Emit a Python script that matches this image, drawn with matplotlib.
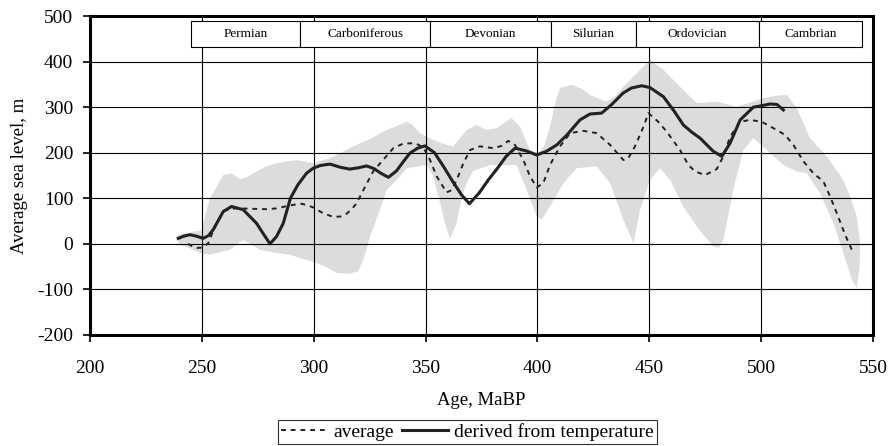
import numpy as np
import matplotlib.pyplot as plt
from matplotlib.patches import Rectangle

plt.rcParams['font.family'] = ['Liberation Serif', 'DejaVu Serif']
plt.rcParams['axes.unicode_minus'] = False

# derived from temperature (solid)
temp_age = [239.5, 242, 244.7, 247.5, 250.6, 253, 255.1, 259.6, 263.3, 268.5, 274.5, 277.5, 280.5,
            283.4, 286.4, 289.6, 293, 296.8, 299.8, 303, 307.3, 312, 316.2, 320, 323.7, 327, 330,
            333.4, 337, 340, 343, 346.5, 349.7, 354, 358, 362, 366, 369.6, 374, 378, 382, 386, 390,
            395, 399.7, 404, 408.6, 413, 419, 423.5, 428.7, 433, 438.3, 442, 446.6, 450.3, 456.3,
            461, 465.2, 469, 472.7, 478.6, 482.4, 486.1, 490.6, 496.5, 500, 504, 507, 509.9]
temp_sea = [12, 17, 20, 17, 12, 18, 31, 71, 82, 75, 45, 22, 0,
            16, 45, 100, 130, 155, 166, 172, 175, 168, 164, 167, 171, 165, 155,
            146, 160, 180, 199, 210, 215, 200, 170, 138, 108, 88, 112, 140, 165, 192, 210,
            204, 195, 203, 217, 238, 272, 285, 287, 305, 331, 342, 347, 343, 323,
            292, 261, 245, 232, 203, 192, 221, 272, 300, 303, 307, 306, 294]

# average (dashed)
avg_age = [243.8, 246, 248, 250.5, 252.9, 254.4, 257, 259.6, 262, 265.6, 272, 279, 284, 288, 291.5,
           294.6, 297, 299.8, 304.3, 308.8, 312, 314.7, 317, 319.2, 322.2, 326.6, 331, 335.6, 340,
           345.3, 349, 352, 355, 359.4, 361.7, 363.9, 366.9, 369.9, 374.3, 380.3, 384, 387, 390,
           393.7, 396.7, 399.7, 402.6, 405.6, 410.1, 414.6, 420.5, 426.5, 432.5, 438.4, 440.6,
           443.6, 447.4, 449.6, 454, 457.8, 463.7, 467.5, 470.4, 474.9, 480.1, 483.1, 486.1,
           490.6, 495, 500.2, 506.9, 510.7, 514.4, 518.9, 523.3, 527.8, 530.8, 533.8, 537.5, 540.5]
avg_sea = [0, -6, -9, -8, 1.5, 20, 48, 71, 76, 78, 77, 76, 78, 83, 86,
           88, 85, 80, 67, 59, 60, 66, 76, 89, 118, 159, 184, 210, 220,
           221, 212, 184, 148, 113, 118, 140, 177, 206, 214, 210, 215, 226, 217,
           184, 148, 124, 133, 173, 214, 243, 248, 243, 217, 184, 188,
           214, 257, 287, 268, 246, 206, 173, 159, 151, 164, 192, 235,
           268, 272, 268, 250, 239, 217, 181, 155, 137, 104, 67, 20, -13]

# grey band, upper edge (left to right)
up_age = [238.5, 241, 245, 249.9, 252.2, 253.6, 255.9, 259.6, 263.3, 267, 270, 273, 278, 283.4,
          292.4, 299.8, 307.3, 317.7, 325.2, 332.6, 337, 341.6, 344, 347.5, 353.5, 359.5, 362.4,
          368.4, 372.8, 377.3, 381.8, 386, 388.5, 392.2, 396.7, 400.4, 403, 405.6, 408, 410.1,
          415.3, 420, 423.5, 430.9, 435, 438.4, 445.9, 450.3, 456.3, 463.7, 471.2, 480.1, 489,
          495, 501, 507, 511.4, 515.9, 521.8, 529.3, 536.7, 540, 542.7, 544.2, 544, 542.7]
up_sea = [16, 22, 25, 30, 75, 100, 118, 151, 155, 142, 146, 155, 168, 177,
          184, 177, 188, 214, 230, 250, 258, 268, 262, 243, 228, 217, 214,
          250, 261, 250, 254, 268, 276, 257, 206, 199, 215, 257, 310, 342,
          349, 340, 327, 312, 325, 345, 382, 404, 382, 345, 309, 312, 301,
          310, 320, 325, 327, 298, 232, 192, 140, 100, 60, 1.5, -50, -97]

# grey band, lower edge (left to right)
low_age = [238.5, 240.2, 244.7, 249.2, 253.6, 262.6, 268.5, 276, 283.4, 289.4, 293.9, 301.3,
           306, 310.3, 316, 320, 322.2, 325.2, 329, 332.6, 337.1, 341.6, 350.5, 353.5, 356.5,
           359.5, 361, 363.9, 366.2, 368.4, 371.3, 378.8, 390.7, 395.2, 399.7, 401.9, 405.6,
           411.6, 417.5, 426.5, 432.5, 438.4, 442.9, 445.9, 450.3, 454.8, 459.3, 465.2, 471.2,
           478.6, 481, 483.1, 487.5, 492, 496.5, 502.5, 509.9, 515.9, 520.4, 526.3, 532.3, 536.7,
           540.5, 542.7]
low_sea = [16, -2, -10, -20, -24, -13, 9, -13, -20, -24, -31, -42,
           -52, -64, -66, -60, -35, 16, 67, 118, 140, 166, 173, 148, 89,
           31, 12.5, 45, 104, 133, 160, 173, 173, 118, 60, 53, 82,
           133, 166, 170, 133, 53, 1.5, 75, 140, 166, 140, 82, 38,
           -6, -9, 9, 118, 206, 232, 206, 173, 159, 155, 111, 45, -20,
           -79, -97]

periods = ["Permian", "Carboniferous", "Devonian", "Silurian", "Ordovician", "Cambrian"]
period_edges = [245, 294, 352, 406, 444, 499, 545]

fig = plt.figure(figsize=(8.9, 4.46), dpi=100)
ax = fig.add_axes([0.101, 0.249, 0.880, 0.715])

band_x = np.concatenate([up_age, low_age[::-1]])
band_y = np.concatenate([up_sea, low_sea[::-1]])
ax.fill(band_x, band_y, color='#dcdcdc', lw=0, zorder=1)

ax.plot(avg_age, avg_sea, color='#222222', lw=1.4, ls=(0, (2.5, 2.5)), zorder=2, label='average')
ax.plot(temp_age, temp_sea, color='#222222', lw=2.2, zorder=2.1, label='derived from temperature')

ax.set_xlim(200, 550)
ax.set_ylim(-200, 500)
ax.set_xticks(range(200, 551, 50))
ax.set_yticks(range(-200, 501, 100))
ax.grid(True, color='black', lw=0.8, zorder=1.5)
ax.tick_params(labelsize=14, length=5, width=1.2, direction='out', color='black')
ax.tick_params(axis='x', pad=13)
ax.tick_params(axis='y', pad=7)
for s in ax.spines.values():
    s.set_linewidth(2.2)

for i, name in enumerate(periods):
    x0, x1 = period_edges[i], period_edges[i + 1]
    ax.add_patch(Rectangle((x0, 432), x1 - x0, 57, facecolor='white', edgecolor='black',
                           lw=0.8, zorder=3))
    ax.text((x0 + x1) / 2, 460, name, ha='center', va='center', fontsize=9.5, zorder=4)

ax.set_xlabel('Age, MaBP', fontsize=13.5, labelpad=11)
ax.set_ylabel('Average sea level, m', fontsize=13.5, labelpad=7)

leg = fig.legend(loc='lower center', bbox_to_anchor=(0.525, 0.005), ncol=2, fontsize=14,
                 frameon=True, fancybox=False, edgecolor='black', borderpad=0.15,
                 handlelength=2.4, handletextpad=0.3, columnspacing=0.4, borderaxespad=0)
leg.get_frame().set_linewidth(0.8)

fig.savefig('out.png', dpi=100)
